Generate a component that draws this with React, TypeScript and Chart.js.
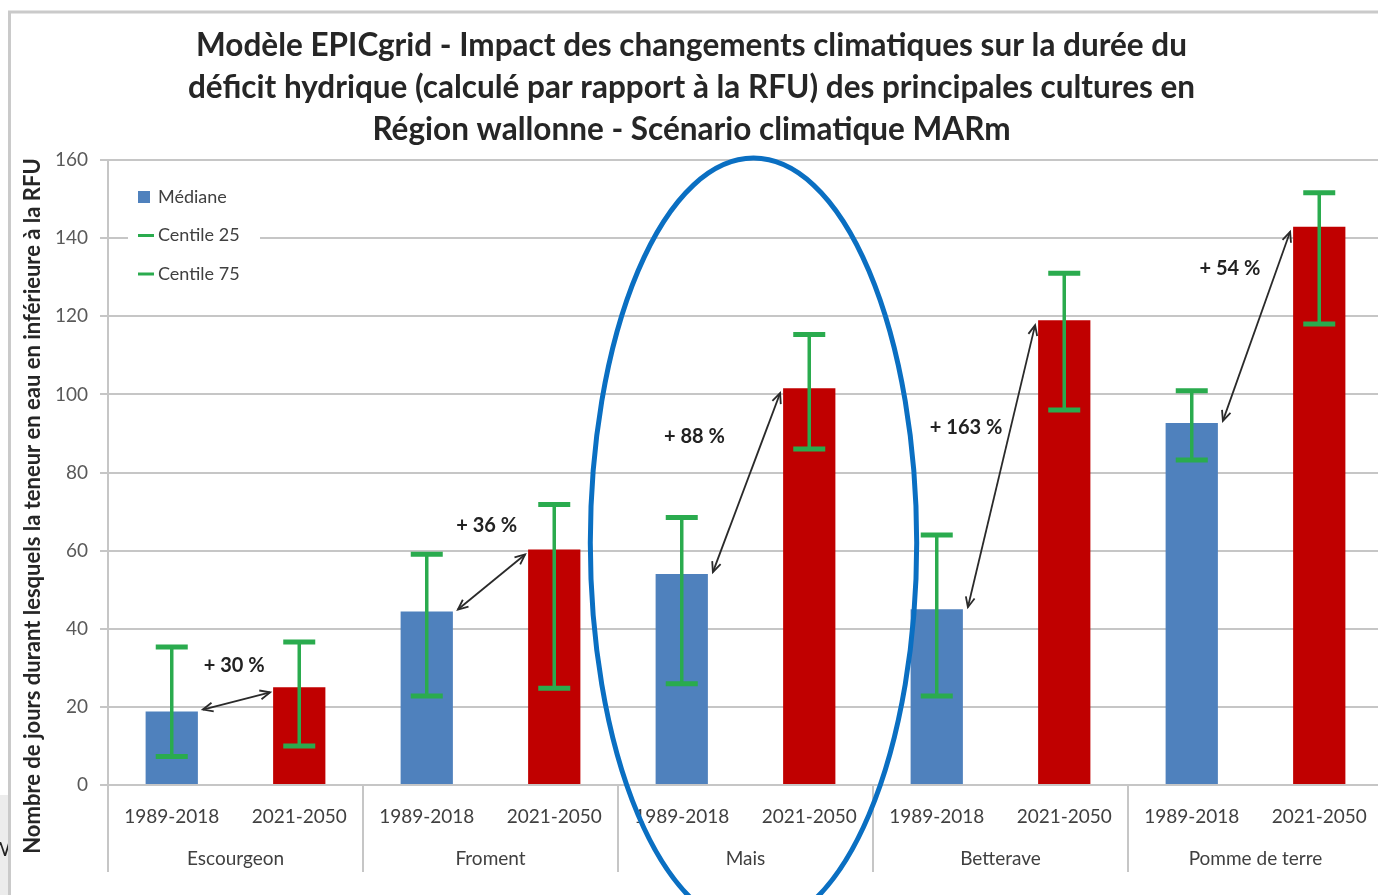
import React, { useEffect, useRef } from 'react';
import { Chart, registerables } from 'chart.js';

Chart.register(...registerables);

const CROPS = ['Escourgeon', 'Froment', 'Mais', 'Betterave', 'Pomme de terre'];
const PERIODS = ['1989-2018', '2021-2050'];
const MEDIAN = [18.8, 25, 44.4, 60.3, 54, 101.6, 45, 119, 92.7, 142.9];
const P25 = [7.3, 10, 22.8, 24.8, 25.9, 86, 22.8, 96, 83.2, 118];
const P75 = [35.3, 36.6, 59.1, 71.8, 68.5, 115.3, 64, 131, 100.9, 151.6];
const CHANGES = ['+ 30 %', '+ 36 %', '+ 88 %', '+ 163 %', '+ 54 %'];
// anchor of each change label (category index, value)
const CHANGE_LABEL_INDEX = [0.49, 2.47, 4.1, 6.23, 8.3];
const CHANGE_LABEL_VALUE = [30.7, 66.3, 89.3, 91.5, 132.2];
const LEGEND_ITEMS = ['Médiane', 'Centile 25', 'Centile 75'];
const TITLE_LINES = [
  'Modèle EPICgrid - Impact des changements climatiques sur la durée du',
  'déficit hydrique (calculé par rapport à la RFU) des principales cultures en',
  'Région wallonne - Scénario climatique MARm',
];
const Y_TITLE = 'Nombre de jours durant lesquels la teneur en eau en inférieure à la RFU';

const BLUE = '#4f81bd';
const RED = '#c00000';
const GREEN = '#2aab4e';
const GRID = '#c6c6c6';
const FONT = 'Lato, "Open Sans", sans-serif';

const LABELS = CROPS.flatMap(() => PERIODS);
const COLORS = LABELS.map((_, i) => (i % 2 === 0 ? BLUE : RED));

function arrowHead(ctx: CanvasRenderingContext2D, x: number, y: number, ang: number) {
  const len = 11;
  const spread = 0.42;
  ctx.beginPath();
  ctx.moveTo(x + len * Math.cos(ang + Math.PI - spread), y + len * Math.sin(ang + Math.PI - spread));
  ctx.lineTo(x, y);
  ctx.lineTo(x + len * Math.cos(ang + Math.PI + spread), y + len * Math.sin(ang + Math.PI + spread));
  ctx.stroke();
}

const overlay = {
  id: 'overlay',
  afterDatasetsDraw(chart: any) {
    const ctx: CanvasRenderingContext2D = chart.ctx;
    const x = chart.scales.x;
    const y = chart.scales.y;
    const area = chart.chartArea;
    const meta = chart.getDatasetMeta(0);
    ctx.save();

    // error bars
    ctx.strokeStyle = GREEN;
    meta.data.forEach((bar: any, i: number) => {
      const top = y.getPixelForValue(P75[i]);
      const bot = y.getPixelForValue(P25[i]);
      ctx.lineWidth = 3.5;
      ctx.beginPath();
      ctx.moveTo(bar.x, top);
      ctx.lineTo(bar.x, bot);
      ctx.stroke();
      ctx.lineWidth = 5;
      ctx.beginPath();
      ctx.moveTo(bar.x - 16, top);
      ctx.lineTo(bar.x + 16, top);
      ctx.moveTo(bar.x - 16, bot);
      ctx.lineTo(bar.x + 16, bot);
      ctx.stroke();
    });

    // arrows and change labels
    ctx.strokeStyle = '#2a2a2a';
    ctx.lineWidth = 1.8;
    CROPS.forEach((_, g) => {
      const b = meta.data[g * 2];
      const r = meta.data[g * 2 + 1];
      const x1 = b.x + b.width / 2 + 5;
      const y1 = b.y - 2;
      const x2 = r.x - r.width / 2 - 3;
      const y2 = r.y + 5;
      ctx.beginPath();
      ctx.moveTo(x1, y1);
      ctx.lineTo(x2, y2);
      ctx.stroke();
      const ang = Math.atan2(y2 - y1, x2 - x1);
      arrowHead(ctx, x2, y2, ang);
      arrowHead(ctx, x1, y1, ang + Math.PI);
      ctx.fillStyle = '#222222';
      ctx.font = `bold 20px ${FONT}`;
      ctx.textAlign = 'center';
      ctx.textBaseline = 'middle';
      ctx.fillText(CHANGES[g], x.getPixelForValue(CHANGE_LABEL_INDEX[g]), y.getPixelForValue(CHANGE_LABEL_VALUE[g]));
    });

    // legend
    ctx.fillStyle = '#ffffff';
    ctx.fillRect(area.left + 20, area.top + 20, 132, 120);
    ctx.font = `18px ${FONT}`;
    ctx.textAlign = 'left';
    ctx.textBaseline = 'middle';
    LEGEND_ITEMS.forEach((t, i) => {
      const ly = area.top + 37 + i * 38.5;
      const lx = area.left + 30;
      if (i === 0) {
        ctx.fillStyle = BLUE;
        ctx.fillRect(lx, ly - 6, 12, 12);
      } else {
        ctx.strokeStyle = GREEN;
        ctx.lineWidth = 3;
        ctx.beginPath();
        ctx.moveTo(lx, ly);
        ctx.lineTo(lx + 16, ly);
        ctx.stroke();
      }
      ctx.fillStyle = '#404040';
      ctx.fillText(t, lx + 20, ly);
    });

    // category separators
    const x2s = chart.scales.x2;
    ctx.strokeStyle = GRID;
    ctx.lineWidth = 2;
    for (let g = 0; g <= CROPS.length; g++) {
      const px = x.getPixelForValue(g * 2 - 0.5);
      ctx.beginPath();
      ctx.moveTo(px, area.bottom);
      ctx.lineTo(px, x2s.bottom - 8);
      ctx.stroke();
    }

    // y title
    ctx.save();
    ctx.translate(33, 506);
    ctx.rotate(-Math.PI / 2);
    ctx.fillStyle = '#262626';
    ctx.font = `bold 22px ${FONT}`;
    ctx.textAlign = 'center';
    ctx.textBaseline = 'middle';
    ctx.fillText(Y_TITLE, 0, 0);
    ctx.restore();

    // frame
    ctx.fillStyle = '#ececec';
    ctx.fillRect(0, 795, 8, 100);
    ctx.fillStyle = '#222222';
    ctx.font = `20px ${FONT}`;
    ctx.textAlign = 'left';
    ctx.fillText('W', -10, 850);
    ctx.strokeStyle = '#cacaca';
    ctx.lineWidth = 3;
    ctx.beginPath();
    ctx.moveTo(9.5, 900);
    ctx.lineTo(9.5, 12);
    ctx.lineTo(1400, 12);
    ctx.stroke();

    // highlight ellipse around Mais
    const cx = x.getPixelForValue(4.5) + 8;
    const cy = y.getPixelForValue(62);
    const ry = y.getPixelForValue(62) - y.getPixelForValue(160.5);
    const rx = (x.getPixelForValue(1) - x.getPixelForValue(0)) * 1.28;
    ctx.strokeStyle = '#0a6fc2';
    ctx.lineWidth = 5;
    ctx.beginPath();
    ctx.ellipse(cx, cy, rx, ry, 0, 0, Math.PI * 2);
    ctx.stroke();

    ctx.restore();
  },
};

export default function App() {
  const ref = useRef<HTMLCanvasElement | null>(null);
  useEffect(() => {
    if (!ref.current) return;
    const chart = new Chart(ref.current, {
      type: 'bar',
      data: {
        labels: LABELS,
        datasets: [
          {
            label: 'Médiane',
            data: MEDIAN,
            backgroundColor: COLORS,
            barPercentage: 0.41,
            categoryPercentage: 1,
          },
        ],
      },
      options: {
        animation: false,
        responsive: false,
        layout: { padding: { left: 0, right: 7, top: 0, bottom: 15 } },
        plugins: {
          legend: { display: false },
          tooltip: { enabled: false },
          title: {
            display: true,
            text: TITLE_LINES,
            color: '#262626',
            font: { family: FONT, size: 31.5, weight: 'bold', lineHeight: 42 / 31.5 },
            padding: { top: 25, bottom: 9 },
          },
        },
        scales: {
          y: {
            min: 0,
            max: 160,
            ticks: { stepSize: 20, color: '#595959', font: { family: FONT, size: 19 }, padding: 12 },
            grid: { color: GRID, lineWidth: 2, tickLength: 8 },
            border: { display: true, color: GRID, width: 2 },
            afterFit: (s: any) => {
              s.width = 108;
            },
          },
          x: {
            ticks: { color: '#404040', font: { family: FONT, size: 19 }, padding: 20, maxRotation: 0, autoSkip: false },
            grid: { display: false, drawTicks: false },
            border: { display: true, color: GRID, width: 2 },
            afterFit: (s: any) => {
              s.height = 50;
            },
          },
          x2: {
            type: 'category',
            position: 'bottom',
            labels: CROPS,
            offset: true,
            ticks: { color: '#404040', font: { family: FONT, size: 19 }, padding: 12, maxRotation: 0, autoSkip: false },
            grid: { display: false, drawTicks: false },
            border: { display: false },
            afterFit: (s: any) => {
              s.height = 45;
            },
          },
        },
      } as any,
      plugins: [overlay],
    });
    return () => chart.destroy();
  }, []);
  return (
    <div style={{ position: 'fixed', left: 0, top: 0, width: 1378, height: 895, overflow: 'hidden', background: '#ffffff' }}>
      <canvas ref={ref} width={1390} height={895} />
    </div>
  );
}
